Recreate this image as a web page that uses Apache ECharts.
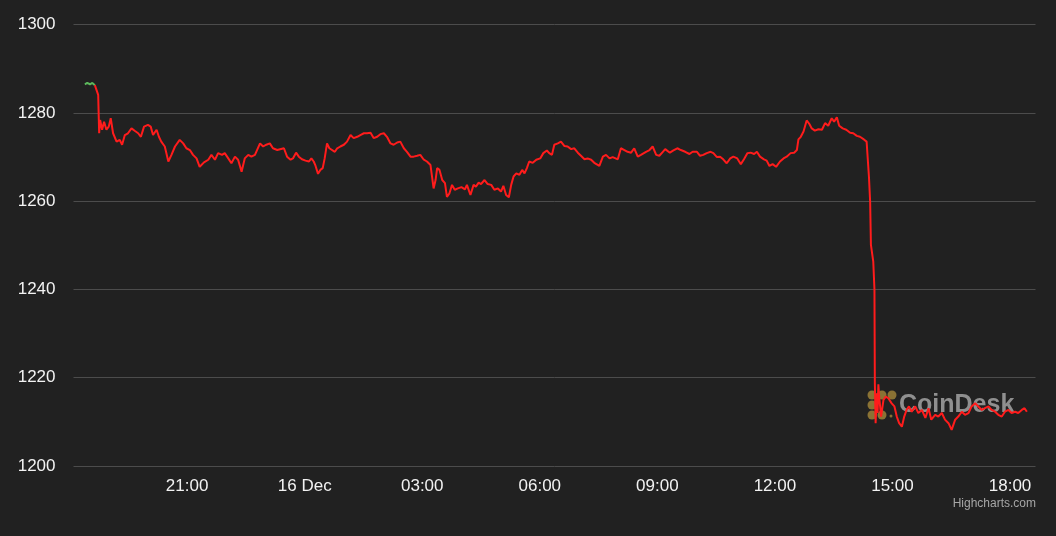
<!DOCTYPE html>
<html>
<head>
<meta charset="utf-8">
<script src="https://cdn.jsdelivr.net/npm/echarts@6/dist/echarts.min.js"></script>
<style>
  html, body { margin: 0; padding: 0; background: #212121; }
  #chart { width: 1056px; height: 536px; }
</style>
</head>
<body>
<div id="chart"></div>
<script>
// x values are hours counted from 15 Dec 00:00, y values are prices
const openLeg = [[18.39, 1286.5], [18.45, 1286.8], [18.52, 1286.5], [18.58, 1286.8], [18.645, 1286.3]]

const lateDec15 = [
  [18.645, 1286.3], [18.69, 1286.0], [18.73, 1284.1], [18.755, 1275.4], [18.78, 1278.4], [18.83, 1276.2],
  [18.88, 1278.0], [18.94, 1276.2], [19.00, 1276.9], [19.05, 1278.8], [19.11, 1275.4], [19.20, 1273.5],
  [19.28, 1273.9], [19.34, 1272.8], [19.41, 1275.0], [19.49, 1275.4], [19.58, 1276.5], [19.67, 1275.9],
  [19.75, 1275.4], [19.82, 1274.6], [19.90, 1276.9], [20.00, 1277.3], [20.07, 1276.9], [20.13, 1275.0],
  [20.22, 1276.2], [20.28, 1274.6], [20.34, 1273.5], [20.43, 1272.4], [20.52, 1269.0], [20.60, 1270.5],
  [20.69, 1272.4], [20.81, 1273.9], [20.90, 1273.1], [20.98, 1272.0], [21.07, 1271.6], [21.15, 1270.5],
  [21.24, 1269.7], [21.32, 1267.8], [21.43, 1268.8], [21.54, 1269.4], [21.62, 1270.5], [21.71, 1269.4],
  [21.79, 1270.9], [21.89, 1270.5], [21.96, 1270.9], [22.05, 1269.7], [22.13, 1268.6], [22.22, 1270.1],
  [22.30, 1269.4], [22.39, 1266.7], [22.47, 1269.7], [22.56, 1270.5], [22.64, 1270.1], [22.73, 1270.5],
  [22.86, 1273.1], [22.94, 1272.4], [23.02, 1272.8], [23.11, 1273.1], [23.19, 1272.0], [23.30, 1271.6]
]

const overnight = [
  [23.34, 1272.0], [23.47, 1272.0], [23.55, 1270.1], [23.64, 1269.4], [23.70, 1269.7], [23.78, 1271.0],
  [23.85, 1270.1], [23.93, 1269.5], [24.02, 1269.2], [24.11, 1269.0], [24.17, 1269.7], [24.23, 1269.0],
  [24.27, 1268.2], [24.34, 1266.2], [24.40, 1267.1], [24.46, 1267.5], [24.51, 1269.7], [24.57, 1273.1],
  [24.63, 1272.0], [24.68, 1271.6], [24.77, 1271.2], [24.83, 1272.0], [24.91, 1272.4], [25.00, 1272.8],
  [25.08, 1273.5], [25.17, 1275.0], [25.25, 1274.3], [25.34, 1274.6], [25.42, 1275.0], [25.51, 1275.4],
  [25.59, 1275.4], [25.68, 1275.5], [25.76, 1274.3], [25.85, 1274.6], [25.93, 1275.2], [26.02, 1275.4],
  [26.10, 1274.6], [26.19, 1273.1], [26.27, 1272.8], [26.36, 1273.3], [26.44, 1273.5], [26.53, 1272.0],
  [26.61, 1271.2], [26.70, 1270.1], [26.78, 1270.1], [26.87, 1270.3], [26.95, 1270.5], [27.04, 1269.4],
  [27.12, 1269.0], [27.21, 1268.2], [27.25, 1267.8], [27.29, 1262.9], [27.34, 1264.8], [27.38, 1267.5],
  [27.44, 1267.1], [27.51, 1264.8], [27.58, 1264.1], [27.63, 1261.0], [27.69, 1261.7], [27.76, 1263.7],
  [27.83, 1262.6], [27.91, 1262.9], [28.00, 1263.2], [28.09, 1262.7], [28.14, 1263.7], [28.23, 1261.4]
]

const morning = [
  [28.31, 1263.7], [28.37, 1263.3], [28.44, 1264.2], [28.50, 1263.9], [28.59, 1264.8], [28.67, 1263.9],
  [28.76, 1263.7], [28.84, 1262.6], [28.93, 1262.9], [29.01, 1262.2], [29.07, 1263.5], [29.14, 1261.4],
  [29.21, 1260.9], [29.27, 1263.7], [29.33, 1265.6], [29.40, 1266.3], [29.48, 1266.0], [29.55, 1267.1],
  [29.61, 1266.3], [29.67, 1267.5], [29.73, 1269.0], [29.82, 1268.7], [29.91, 1269.4], [30.01, 1269.7],
  [30.09, 1270.9], [30.18, 1271.5], [30.24, 1270.9], [30.31, 1270.5], [30.37, 1272.8], [30.46, 1273.1],
  [30.54, 1273.5], [30.63, 1272.5], [30.71, 1272.4], [30.80, 1271.8], [30.88, 1272.0], [30.97, 1271.0],
  [31.05, 1270.3], [31.14, 1269.5], [31.22, 1269.7], [31.31, 1269.4], [31.39, 1268.7], [31.52, 1268.0],
  [31.61, 1270.1], [31.69, 1270.5], [31.78, 1269.7], [31.86, 1270.0], [31.99, 1269.5], [32.07, 1272.0],
  [32.16, 1271.6], [32.24, 1271.2], [32.33, 1271.0], [32.41, 1272.0], [32.50, 1270.1], [32.58, 1270.5],
  [32.71, 1271.2], [32.80, 1271.6], [32.88, 1272.4], [32.97, 1270.5], [33.05, 1270.3], [33.14, 1271.2],
  [33.20, 1271.8]
]

const midday = [
  [33.24, 1271.8], [33.32, 1271.0], [33.41, 1271.5], [33.51, 1272.0], [33.60, 1271.6], [33.71, 1271.2],
  [33.82, 1270.7], [33.90, 1271.2], [34.01, 1271.2], [34.09, 1270.3], [34.17, 1270.5], [34.26, 1270.9],
  [34.36, 1271.2], [34.43, 1270.9], [34.52, 1270.0], [34.60, 1270.1], [34.68, 1269.5], [34.77, 1268.6],
  [34.86, 1269.7], [34.94, 1270.1], [35.04, 1269.7], [35.13, 1268.4], [35.21, 1269.5], [35.30, 1270.9],
  [35.38, 1271.0], [35.47, 1270.7], [35.54, 1271.2], [35.62, 1270.1], [35.72, 1269.5], [35.79, 1269.2],
  [35.86, 1268.0], [35.94, 1268.4], [36.03, 1267.8], [36.13, 1269.0], [36.22, 1269.7], [36.30, 1270.1],
  [36.40, 1270.9], [36.49, 1271.0], [36.56, 1271.6], [36.60, 1274.0], [36.66, 1274.6], [36.73, 1275.8],
  [36.81, 1278.3], [36.88, 1277.5], [36.94, 1276.5], [37.02, 1276.0], [37.11, 1276.3], [37.20, 1276.2],
  [37.28, 1277.7], [37.36, 1277.1], [37.45, 1278.8], [37.51, 1278.0], [37.58, 1279.0], [37.64, 1277.1],
  [37.73, 1276.5], [37.82, 1276.2], [37.92, 1275.5], [38.00, 1275.4], [38.09, 1274.8], [38.17, 1274.6],
  [38.27, 1274.0], [38.34, 1273.5], [38.38, 1273.2]
]

const crash = [
  [38.40, 1265.5], [38.43, 1259.9], [38.45, 1250.1], [38.51, 1246.3], [38.54, 1240.0], [38.55, 1218.8],
  [38.57, 1209.7], [38.60, 1216.5], [38.62, 1212.0], [38.64, 1218.5], [38.66, 1215.7], [38.71, 1211.2],
  [38.77, 1215.0], [38.83, 1215.7], [38.89, 1215.4], [38.98, 1214.2], [39.05, 1213.5], [39.11, 1211.2],
  [39.17, 1209.7], [39.24, 1208.9], [39.30, 1211.2], [39.36, 1212.7], [39.42, 1213.5], [39.49, 1212.3],
  [39.58, 1213.5], [39.66, 1212.0], [39.75, 1212.7], [39.84, 1210.9], [39.92, 1213.1], [39.99, 1210.5],
  [40.09, 1211.6], [40.17, 1211.2], [40.26, 1212.0], [40.34, 1210.5], [40.43, 1209.7], [40.51, 1208.2],
  [40.60, 1210.5], [40.68, 1211.2], [40.77, 1212.3], [40.85, 1211.6], [40.94, 1212.0], [41.02, 1213.5],
  [41.11, 1214.2], [41.19, 1213.5], [41.28, 1212.7], [41.36, 1213.1], [41.45, 1213.5], [41.53, 1212.7],
  [41.62, 1212.3], [41.70, 1211.6], [41.79, 1211.2], [41.87, 1212.3], [41.96, 1212.7], [42.04, 1212.0],
  [42.13, 1212.3], [42.21, 1212.0], [42.30, 1212.7], [42.37, 1213.1], [42.43, 1212.3]
]

const xTickHours = [21, 24, 27, 30, 33, 36, 39, 42]
const yTicks = [1200, 1220, 1240, 1260, 1280, 1300]

const priceLine = lateDec15.concat(overnight, morning, midday, crash)

function hourLabel (h) {
  if (h === 24) return '16 Dec'
  const hh = h % 24
  return (hh < 10 ? '0' : '') + hh + ':00'
}

const chart = echarts.init(document.getElementById('chart'))
const font = "'Liberation Sans', Arial, sans-serif"

const option = {
  backgroundColor: '#212121',
  animation: false,
  textStyle: { fontFamily: font },
  grid: {
    left: 73.5,
    right: 20.5,
    top: 24.7,
    bottom: 70
  },
  xAxis: {
    type: 'value',
    min: 18.10,
    max: 42.65,
    axisLine: { show: false },
    axisTick: { show: false },
    splitLine: { show: false },
    axisLabel: {
      customValues: xTickHours,
      formatter: hourLabel,
      color: '#f2f2f2',
      fontSize: 17,
      fontFamily: font,
      margin: 12
    }
  },
  yAxis: {
    type: 'value',
    min: yTicks[0],
    max: yTicks[yTicks.length - 1],
    interval: 20,
    axisLine: { show: false },
    axisTick: { show: false },
    splitLine: { lineStyle: { color: '#4c4c4c', width: 1 } },
    axisLabel: {
      formatter: function (v) { return String(v) },
      color: '#f2f2f2',
      fontSize: 17,
      fontFamily: font,
      margin: 18
    }
  },
  graphic: [
    { type: 'circle', shape: { cx: 872, cy: 395, r: 4.5 }, style: { fill: '#8a7234' }, z: 0 },
    { type: 'circle', shape: { cx: 882, cy: 395, r: 4.5 }, style: { fill: '#8a7234' }, z: 0 },
    { type: 'circle', shape: { cx: 892, cy: 395, r: 4.5 }, style: { fill: '#8a7234' }, z: 0 },
    { type: 'circle', shape: { cx: 872, cy: 405, r: 4.5 }, style: { fill: '#8a7234' }, z: 0 },
    { type: 'circle', shape: { cx: 872, cy: 415, r: 4.5 }, style: { fill: '#8a7234' }, z: 0 },
    { type: 'circle', shape: { cx: 882, cy: 415, r: 4.5 }, style: { fill: '#8a7234' }, z: 0 },
    { type: 'circle', shape: { cx: 891, cy: 416, r: 1.5 }, style: { fill: '#8a7234' }, z: 0 },
    {
      type: 'text',
      left: 899,
      top: 393,
      z: 0,
      style: { text: 'CoinDesk', fill: '#8f8f8f', font: 'bold 25px ' + font }
    },
    {
      type: 'text',
      right: 20,
      top: 498,
      style: { text: 'Highcharts.com', fill: '#a6a6a6', font: '12px ' + font }
    }
  ],
  series: [
    {
      type: 'line',
      data: openLeg,
      showSymbol: false,
      lineStyle: { color: '#5cb85c', width: 2 },
      z: 3
    },
    {
      type: 'line',
      data: priceLine,
      showSymbol: false,
      lineStyle: { color: '#ff1c1c', width: 2 },
      z: 3
    }
  ]
}

chart.setOption(option)
</script>
</body>
</html>
